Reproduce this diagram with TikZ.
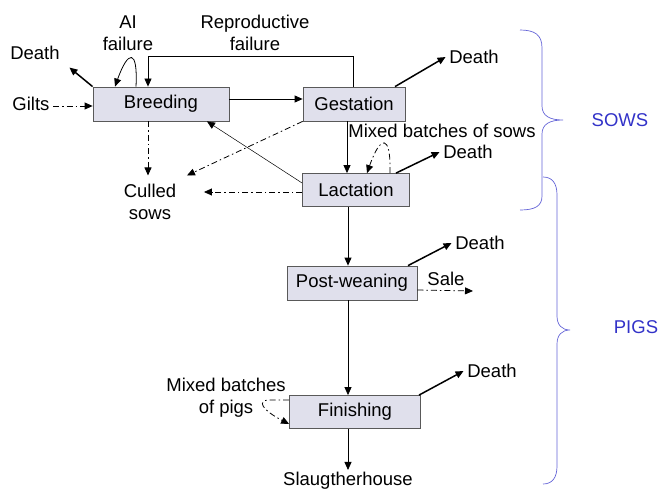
\documentclass[tikz,border=0pt]{standalone}
\usepackage{fontspec}
\setmainfont{Liberation Sans}
\usetikzlibrary{arrows.meta}

\definecolor{boxfill}{RGB}{224,224,236}
\definecolor{bracecol}{RGB}{100,100,215}
\definecolor{groupcol}{RGB}{50,50,200}

\tikzset{
  stage/.style={draw=black!65, fill=boxfill, minimum height=34pt, inner sep=2pt},
  flow/.style={-{Triangle[length=8pt,width=7pt]}},
  cull/.style={flow, dash pattern=on 6pt off 3pt on 1.5pt off 3pt},
  death/.style={flow, line width=1.5pt},
  brace/.style={draw=bracecol, line width=0.7pt},
  group/.style={text=groupcol},
}

\begin{document}
\begin{tikzpicture}[x=1pt, y=-1pt, line width=0.8pt, font=\fontsize{18.5}{22}\selectfont]
  \useasboundingbox (0,0) rectangle (660,492);

  % stages
  \node[stage, minimum width=136pt] (breed) at (161,104) {Breeding};
  \node[stage, minimum width=102pt] (gest) at (354,104) {Gestation};
  \node[stage, minimum width=107pt, minimum height=33pt] (lact) at (356,190) {Lactation};
  \node[stage, minimum width=130pt] (postw) at (352,283) {Post-weaning};
  \node[stage, minimum width=131pt, minimum height=33pt] (finish) at (355,412) {Finishing};

  % labels
  \node[align=center] (aifail) at (128,33) {AI\\failure};
  \node[align=center] (reprofail) at (255,33) {Reproductive\\failure};
  \node (deathbreed) at (35,53) {Death};
  \node (gilts) at (31,104) {Gilts};
  \node[align=center] (culled) at (150,202) {Culled\\sows};
  \node (deathgest) at (474,57) {Death};
  \node (mixsows) at (442,131) {Mixed batches of sows};
  \node (deathlact) at (468,152) {Death};
  \node (deathpostw) at (480,243) {Death};
  \node (sale) at (446,279) {Sale};
  \coordinate (saleend) at (473,291);
  \node (deathfinish) at (492,371) {Death};
  \node[align=center] (mixpigs) at (226,398) {Mixed batches\\of pigs};
  \node[inner sep=1pt] (slaughter) at (348,481) {Slaugtherhouse};

  % main flow
  \draw[flow] ([yshift=5pt]breed.east) -- ([yshift=5pt]gest.west);
  \draw[flow] ([xshift=-7pt]gest.south) -- ([xshift=-9pt]lact.north);
  \draw[flow] ([xshift=-8pt]lact.south) -- ([xshift=-4pt]postw.north);
  \draw[flow] ([xshift=-4pt]postw.south) -- ([xshift=-7pt]finish.north);
  \draw[flow] ([xshift=-7pt]finish.south) -- ([yshift=1pt]slaughter.north);

  % returns to breeding
  \draw[flow] ([xshift=-1pt]gest.north) -- ++(0,-30) -| ([xshift=-13pt]breed.north);
  \draw[flow] ([xshift=-25pt]breed.north) .. controls (138,48) and (128,50) .. ([xshift=-46pt]breed.north);
  \draw[flow, line width=0.5pt] ([yshift=7pt]lact.west) -- ([xshift=46pt]breed.south);
  \draw[cull] ([yshift=-2pt]gilts.east) -- ([yshift=-2pt]breed.west);

  % culling
  \draw[cull] ([xshift=-13pt]breed.south) -- ([xshift=-2pt,yshift=5pt]culled.north);
  \draw[cull] (gest.south west) -- ([xshift=7pt,yshift=5pt]culled.north east);
  \draw[cull] ([yshift=-2pt]lact.west) -- ([xshift=24pt,yshift=10pt]culled.east);

  % deaths
  \draw[death] (breed.north west) -- ([xshift=6pt,yshift=-4pt]deathbreed.south east);
  \draw[death] ([xshift=41pt]gest.north) -- (deathgest.west);
  \draw[death] ([xshift=40pt]lact.north) -- (deathlact.west);
  \draw[death] ([xshift=56pt]postw.north) -- (deathpostw.west);
  \draw[death] ([xshift=64pt]finish.north) -- (deathfinish.west);

  % mixing and sale
  \draw[cull] ([xshift=34pt]lact.north) .. controls (391,132) and (380,136) .. ([xshift=11pt]lact.north);
  \draw[cull] ([yshift=-7pt]postw.east) -- (saleend);
  \draw[cull] ([yshift=12pt]finish.west) -- (270,400) .. controls (256,400) and (262,410) .. ([yshift=-12pt]finish.west);

  % groups
  \draw[brace] (520,30) .. controls (535,30) and (542,35) .. (542,48) -- (542,106)
    .. controls (542,116) and (550,120) .. (563,120) .. controls (550,120) and (542,124) .. (542,134)
    -- (542,196) .. controls (542,206) and (535,210) .. (520,210);
  \draw[brace] (543,177) .. controls (552,177) and (557,183) .. (557,195) -- (557,316)
    .. controls (557,325) and (562,330) .. (570,330) .. controls (562,330) and (557,335) .. (557,344)
    -- (557,466) .. controls (557,478) and (552,484) .. (543,484);
  \node[group] (sows) at (620,120) {SOWS};
  \node[group] (pigs) at (636,327) {PIGS};
\end{tikzpicture}
\end{document}
